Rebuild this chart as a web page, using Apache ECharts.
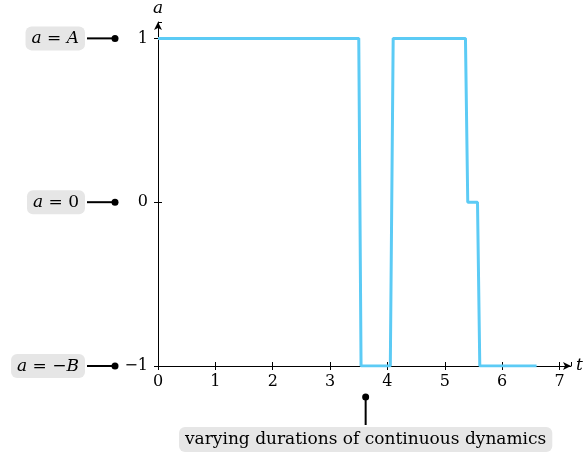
<!DOCTYPE html>
<html>
<head>
<meta charset="utf-8">
<script src="https://cdn.jsdelivr.net/npm/echarts@6/dist/echarts.min.js"></script>
<style>
  html, body { margin: 0; padding: 0; background: #fff; }
  #chart { width: 584px; height: 454px; }
</style>
</head>
<body>
<div id="chart"></div>
<script>
const tValues = [0, 3.50, 3.54, 4.05, 4.10, 5.36, 5.40, 5.57, 5.61, 6.60]
const aValues = [1, 1, -1, -1, 1, 1, 0, 0, -1, -1]
const xTicks = [0, 1, 2, 3, 4, 5, 6, 7]
const yTicks = [-1, 0, 1]
const stateValues = [1, 0, -1]
const stateLabels = ['{i|a} = {i|A}', '{i|a} = 0', '{i|a} = −{i|B}']
const noteT = 3.62
const noteText = 'varying durations of continuous dynamics'

const font = 'DejaVu Serif'
const lineColor = '#5ccbf5'

const data = tValues.map((t, i) => [t, aValues[i]])

var myChart = echarts.init(document.getElementById('chart'))

const arrowLine = { onZero: false, lineStyle: { color: '#000', width: 1 }, symbol: ['none', 'arrow'], symbolSize: [6, 8] }
const tickStyle = { lineStyle: { color: '#000' } }

var option = {
    animation: false,
    textStyle: { fontFamily: font },
    grid: { left: 158, right: 13, top: 22, bottom: 88, outerBoundsMode: 'none' },
    xAxis: [
        {
            type: 'value',
            min: 0,
            max: 7.2,
            interval: 1,
            axisLine: arrowLine,
            axisTick: { length: 4, ...tickStyle },
            splitLine: { show: false },
            axisLabel: {
                color: '#000',
                fontSize: 16,
                fontFamily: font,
                margin: 8,
                showMaxLabel: false,
                formatter: v => xTicks.includes(v) ? String(v) : ''
            },
            name: 't',
            nameLocation: 'end',
            nameGap: 5,
            nameTextStyle: { fontStyle: 'italic', fontSize: 17, color: '#000', fontFamily: font }
        },
        {
            type: 'value',
            min: 0,
            max: 7.2,
            interval: 1,
            position: 'bottom',
            axisLine: { show: false, onZero: false },
            axisTick: { inside: true, length: 4, ...tickStyle },
            axisLabel: { show: false },
            splitLine: { show: false }
        }
    ],
    yAxis: [
        {
            type: 'value',
            min: -1,
            max: 1.1,
            interval: 1,
            axisLine: arrowLine,
            axisTick: { length: 4, ...tickStyle },
            splitLine: { show: false },
            axisLabel: {
                color: '#000',
                fontSize: 16,
                fontFamily: font,
                margin: 10,
                showMaxLabel: false,
                formatter: v => yTicks.includes(v) ? (v < 0 ? '−' + Math.abs(v) : String(v)) : ''
            },
            name: 'a',
            nameLocation: 'end',
            nameGap: 5,
            nameTextStyle: { fontStyle: 'italic', fontSize: 17, color: '#000', fontFamily: font }
        },
        {
            type: 'value',
            min: -1,
            max: 1.1,
            interval: 1,
            position: 'left',
            axisLine: { show: false, onZero: false },
            axisTick: { inside: true, length: 4, ...tickStyle },
            axisLabel: { show: false },
            splitLine: { show: false }
        }
    ],
    series: [
        {
            type: 'line',
            data: data,
            showSymbol: false,
            lineStyle: { color: lineColor, width: 3 },
            z: 3
        }
    ]
}
myChart.setOption(option)

// annotation boxes placed from axis positions
const graphics = []
stateValues.forEach((v, i) => {
    const [x0, y] = myChart.convertToPixel({ xAxisIndex: 0, yAxisIndex: 0 }, [0, v])
    const dotX = x0 - 43
    const boxRight = x0 - 73
    graphics.push({
        type: 'line',
        shape: { x1: boxRight + 2, y1: y, x2: dotX, y2: y },
        style: { stroke: '#000', lineWidth: 2 }
    })
    graphics.push({
        type: 'circle',
        shape: { cx: dotX, cy: y, r: 3.5 },
        style: { fill: '#000' }
    })
    graphics.push({
        type: 'text',
        x: boxRight,
        y: y,
        style: {
            text: stateLabels[i],
            align: 'right',
            verticalAlign: 'middle',
            fontFamily: font,
            fontSize: 17,
            fill: '#000',
            backgroundColor: '#e6e6e6',
            borderRadius: 6,
            padding: [4, 6, 3, 6],
            rich: { i: { fontStyle: 'italic', fontFamily: font, fontSize: 17 } }
        }
    })
})

const [nx, ny] = myChart.convertToPixel({ xAxisIndex: 0, yAxisIndex: 0 }, [noteT, -1])
graphics.push({
    type: 'line',
    shape: { x1: nx, y1: ny + 31, x2: nx, y2: ny + 59 },
    style: { stroke: '#000', lineWidth: 2 }
})
graphics.push({
    type: 'circle',
    shape: { cx: nx, cy: ny + 31, r: 3.5 },
    style: { fill: '#000' }
})
graphics.push({
    type: 'text',
    x: nx,
    y: ny + 61,
    style: {
        text: noteText,
        align: 'center',
        verticalAlign: 'top',
        fontFamily: font,
        fontSize: 17,
        fill: '#000',
        backgroundColor: '#e6e6e6',
        borderRadius: 6,
        padding: [4, 6, 4, 6]
    }
})

myChart.setOption({ graphic: graphics })
</script>
</body>
</html>
